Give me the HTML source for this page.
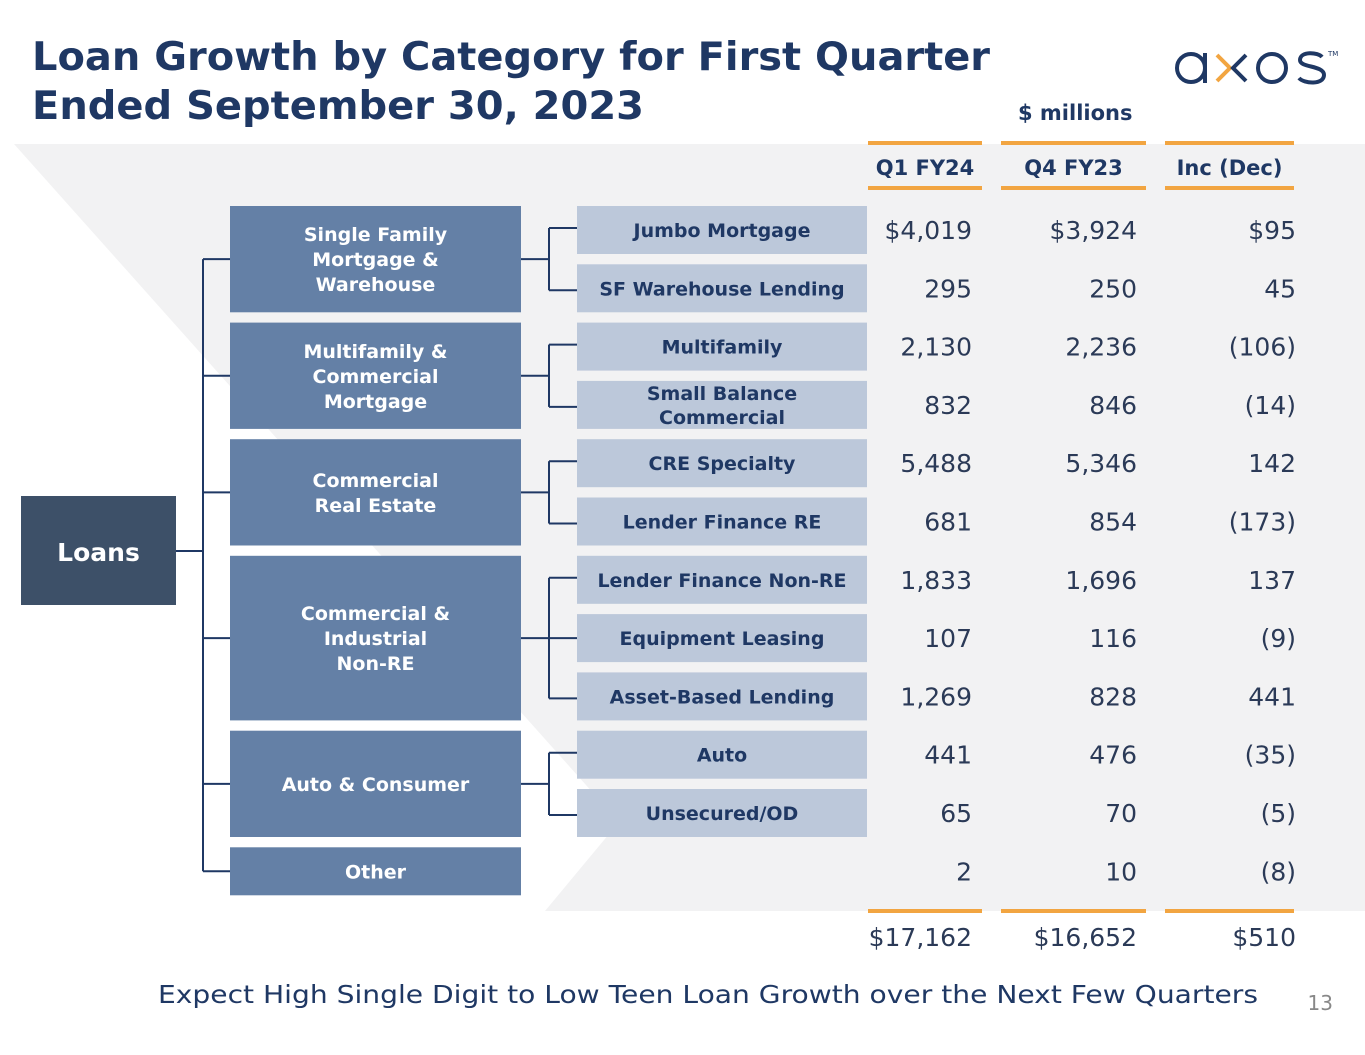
<!DOCTYPE html>
<html><head><meta charset="utf-8"><style>
html,body{margin:0;padding:0;background:#fff;}
svg{display:block;font-family:"DejaVu Sans","Liberation Sans",sans-serif;}
</style></head><body>
<svg id="chart" width="1365" height="1055" viewBox="0 0 1365 1055">
<polygon points="14,144 1365,144 1365,911 545,911 619,822" fill="#f2f2f3"/>
<text x="32" y="70" font-size="39" font-weight="bold" fill="#1f3864" textLength="958" lengthAdjust="spacingAndGlyphs">Loan Growth by Category for First Quarter</text>
<text x="32" y="119" font-size="39" font-weight="bold" fill="#1f3864" textLength="612" lengthAdjust="spacingAndGlyphs">Ended September 30, 2023</text>
<g fill="none" stroke-width="4">
<circle cx="1191" cy="68" r="14" stroke="#1f3864"/>
<line x1="1205" y1="53" x2="1205" y2="83" stroke="#1f3864"/>
<polyline points="1217,55 1230,68 1217,81" stroke="#f2a541"/>
<polyline points="1246,55 1233,68 1246,81" stroke="#1f3864"/>
<circle cx="1272" cy="68" r="14" stroke="#1f3864"/>
<path d="M1322,57 C1318,52 1300,51 1300,60 C1300,68 1324,65 1324,75 C1324,85 1304,84 1299,78" stroke="#1f3864"/>
<text x="1328" y="56" font-size="7" fill="#1f3864" stroke="none">TM</text>
</g>
<text x="1018" y="120" font-size="21" font-weight="bold" fill="#1f3864">$ millions</text>
<g id="heads"></g>
<g id="tree"></g>
<g id="nums"></g>
<text x="158" y="1003" font-size="25" fill="#1f3864" textLength="1100" lengthAdjust="spacingAndGlyphs">Expect High Single Digit to Low Teen Loan Growth over the Next Few Quarters</text>
<text x="1333" y="1010" font-size="20" fill="#888" text-anchor="end">13</text>
</svg>
<script>
const subcategories=["Jumbo Mortgage","SF Warehouse Lending","Multifamily","Small Balance|Commercial","CRE Specialty","Lender Finance RE","Lender Finance Non-RE","Equipment Leasing","Asset-Based Lending","Auto","Unsecured/OD",""];
const categories=["Single Family|Mortgage &|Warehouse","Multifamily &|Commercial|Mortgage","Commercial|Real Estate","Commercial &|Industrial|Non-RE","Auto & Consumer","Other"];
const categoryRows=[[0,1],[2,3],[4,5],[6,8],[9,10],[11,11]];
const q1fy24=["$4,019","295","2,130","832","5,488","681","1,833","107","1,269","441","65","2"];
const q4fy23=["$3,924","250","2,236","846","5,346","854","1,696","116","828","476","70","10"];
const incDec=["$95","45","(106)","(14)","142","(173)","137","(9)","441","(35)","(5)","(8)"];
const totals=["$17,162","$16,652","$510"];
const headers=["Q1 FY24","Q4 FY23","Inc (Dec)"];
const NS="http://www.w3.org/2000/svg";
function mk(tag,attrs,parent,txt){const e=document.createElementNS(NS,tag);for(const k in attrs)e.setAttribute(k,attrs[k]);if(txt!==undefined)e.textContent=txt;parent.appendChild(e);return e;}
const rowTop=i=>206+i*58.3, rowH=48, rowMid=i=>rowTop(i)+rowH/2;
const heads=document.getElementById('heads'),tree=document.getElementById('tree'),nums=document.getElementById('nums');
const colX=[[868,982],[1001,1146],[1165,1294]];
const colRight=[972,1137,1296];
headers.forEach((h,c)=>{
 const [a,b]=colX[c];
 let l1=mk('rect',{x:a,y:141,width:b-a,height:4,fill:'#f2a541'},heads);
 
 
 let l2=mk('rect',{x:a,y:186,width:b-a,height:4,fill:'#f2a541'},heads);
 
 
 let l3=mk('rect',{x:a,y:909,width:b-a,height:4,fill:'#f2a541'},heads);
 
 
 let t=mk('text',{x:(a+b)/2,y:175,'font-size':21,'font-weight':'bold',fill:'#1f3864','text-anchor':'middle'},heads,h);
 
 
 let tt=mk('text',{x:colRight[c],y:946,'font-size':25,fill:'#2b3a57','text-anchor':'end'},nums,totals[c]);
 
 
});
const line='#1f3864';
let lb=mk('rect',{x:21,y:496,width:155,height:109,fill:'#3d5068'},tree);


let lt=mk('text',{x:98.5,y:561,'font-size':25,'font-weight':'bold',fill:'#fff','text-anchor':'middle'},tree,'Loans');


mk('line',{x1:176,y1:551,x2:203,y2:551,stroke:line,'stroke-width':2},tree);
const catMids=categoryRows.map(([a,b])=>(rowTop(a)+rowTop(b)+rowH)/2);
mk('line',{x1:203,y1:catMids[0],x2:203,y2:catMids[catMids.length-1],stroke:line,'stroke-width':2},tree);
categories.forEach((c,k)=>{
 const [a,b]=categoryRows[k];const top=rowTop(a),bot=rowTop(b)+rowH,mid=(top+bot)/2;
 mk('line',{x1:203,y1:mid,x2:230,y2:mid,stroke:line,'stroke-width':2},tree);
 let r=mk('rect',{x:230,y:top,width:291,height:bot-top,fill:'#6480a6'},tree);
 
 
 const lines=c.split('|');const y0=mid-(lines.length-1)*12.5+7;
 lines.forEach((s,j)=>{let t=mk('text',{x:375.5,y:y0+j*25,'font-size':19,'font-weight':'bold',fill:'#fff','text-anchor':'middle'},tree,s);
  
  });
 if(subcategories[a]!==''){
  mk('line',{x1:521,y1:mid,x2:549,y2:mid,stroke:line,'stroke-width':2},tree);
  mk('line',{x1:549,y1:rowMid(a)-2,x2:549,y2:rowMid(b)+2,stroke:line,'stroke-width':2},tree);
  for(let i=a;i<=b;i++){const yy=(i===a)?rowMid(i)-2:(i===b?rowMid(i)+2:rowMid(i));mk('line',{x1:549,y1:yy,x2:577,y2:yy,stroke:line,'stroke-width':2},tree);}
 }
});
subcategories.forEach((s,i)=>{
 if(s){
  let r=mk('rect',{x:577,y:rowTop(i),width:290,height:rowH,fill:'#bcc8da'},tree);
  
  
  const lines=s.split('|');const y0=(lines.length>1?rowMid(i)-5:rowMid(i)+7);
  lines.forEach((ln,j)=>{let t=mk('text',{x:722,y:y0+j*24,'font-size':19,'font-weight':'bold',fill:'#1f3864','text-anchor':'middle'},tree,ln);
   
   });
 }
 [q1fy24,q4fy23,incDec].forEach((arr,c)=>{
  let t=mk('text',{x:colRight[c],y:rowMid(i)+9,'font-size':25,fill:'#2b3a57','text-anchor':'end'},nums,arr[i]);
  
  
 });
});
</script>
</body></html>
